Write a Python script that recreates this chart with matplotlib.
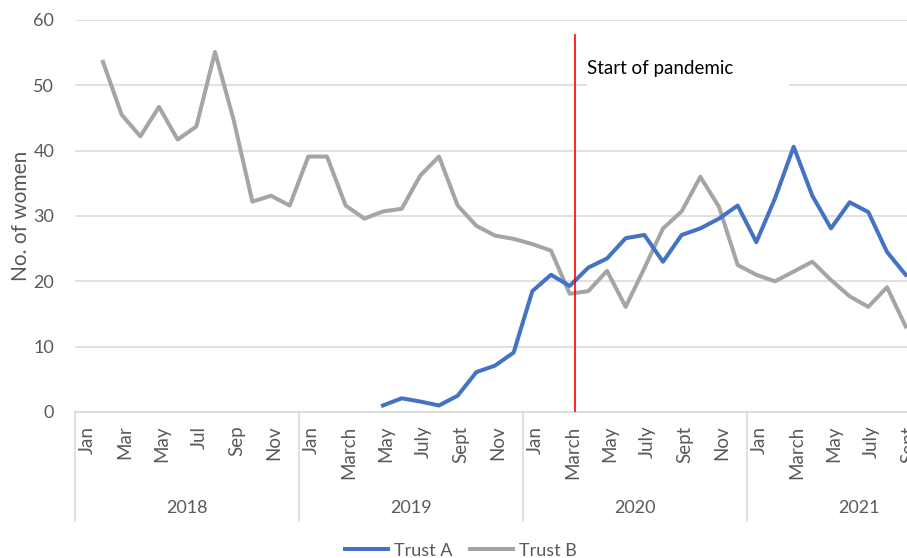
import matplotlib
matplotlib.use("Agg")
import matplotlib.pyplot as plt
import matplotlib.transforms as mtransforms
from matplotlib.patches import Rectangle
from matplotlib.lines import Line2D
import numpy as np

# ---- data ----
years = ["2018", "2019", "2020", "2021"]
months_per_year = [12, 12, 12, 9]
month_labels = [
    ["Jan", "Mar", "May", "Jul", "Sep", "Nov"],
    ["Jan", "March", "May", "July", "Sept", "Nov"],
    ["Jan", "March", "May", "July", "Sept", "Nov"],
    ["Jan", "March", "May", "July", "Sept"],
]
# Trust B: Feb 2018 .. Sep 2021
trust_b_start = 1
trust_b = [53.6, 45.5, 42.2, 46.7, 41.7, 43.7, 55.1, 44.7, 32.2, 33.1, 31.6,
           39.1, 39.1, 31.6, 29.6, 30.7, 31.1, 36.2, 39.1, 31.6, 28.5, 27.0, 26.5,
           25.7, 24.7, 18.1, 18.5, 21.6, 16.1, 22.0, 28.1, 30.7, 36.0, 31.4, 22.5,
           21.0, 20.0, 21.5, 23.0, 20.2, 17.7, 16.1, 19.1, 13.1]
# Trust A: May 2019 .. Sep 2021
trust_a_start = 16
trust_a = [1.0, 2.1, 1.6, 1.0, 2.5, 6.1, 7.1, 9.1,
           18.5, 21.0, 19.3, 22.1, 23.5, 26.6, 27.1, 23.0, 27.1, 28.1, 29.6, 31.6,
           26.0, 32.7, 40.6, 33.1, 28.1, 32.1, 30.6, 24.5, 21.0]
pandemic_index = 26.28
pandemic_label = "Start of pandemic"

plt.rcParams['font.family'] = ['Lato', 'DejaVu Sans']

W, H = 907, 558
fig = plt.figure(figsize=(W / 100, H / 100), dpi=100)
left_px, right_px, top_px, bottom_px = 75, 915, 20, 412
ax = fig.add_axes([left_px / W, 1 - bottom_px / H,
                   (right_px - left_px) / W, (bottom_px - top_px) / H])

ax.set_xlim(-0.5, 44.5)
ax.set_ylim(0, 60)
ax.set_yticks(np.arange(0, 61, 10))
ax.tick_params(axis='y', length=0, labelsize=13, labelcolor='#595959', pad=15)
ax.set_xticks([])
ax.grid(axis='y', color='#d9d9d9', linewidth=1.1)
ax.set_axisbelow(True)
for s in ['top', 'right', 'left']:
    ax.spines[s].set_visible(False)
ax.spines['bottom'].set_color('#d9d9d9')
ax.spines['bottom'].set_linewidth(1.1)
ax.set_ylabel("No. of women", fontsize=15, color='#595959', labelpad=2)

xb = np.arange(trust_b_start, trust_b_start + len(trust_b))
xa = np.arange(trust_a_start, trust_a_start + len(trust_a))
ax.plot(xb, trust_b, color='#A5A5A5', linewidth=2.9, solid_joinstyle='round', zorder=3)
ax.plot(xa, trust_a, color='#4472C4', linewidth=2.9, solid_joinstyle='round', zorder=4)

# pandemic line
ax.plot([pandemic_index, pandemic_index], [0, 57.7], color='#FF0000', linewidth=1.2, zorder=5)
ax.add_patch(Rectangle((26.95, 48.2), 10.8, 9.2, facecolor='white', edgecolor='none', zorder=2))
ax.text(26.95, 52.6, pandemic_label, fontsize=13.5, color='black', va='center', ha='left', zorder=6)

# category axis
trans = mtransforms.blended_transform_factory(ax.transData, ax.transAxes)
start = 0
for yi, (yr, nm, labs) in enumerate(zip(years, months_per_year, month_labels)):
    for k, lab in enumerate(labs):
        ax.text(start + 2 * k + 0.15, -0.035, lab, transform=trans, rotation=90,
                ha='center', va='top', fontsize=13.5, color='#595959')
    ax.text(start + (11) / 2.0, -0.245, yr, transform=trans, ha='center', va='center',
            fontsize=13, color='#595959')
    ax.plot([start - 0.5, start - 0.5], [0, -0.277], transform=trans, color='#d9d9d9',
            linewidth=1.1, clip_on=False)
    start += nm

# legend
handles = [Line2D([0], [0], color='#4472C4', lw=2.9), Line2D([0], [0], color='#A5A5A5', lw=2.9)]
fig.legend(handles, ["Trust A", "Trust B"], loc='center', bbox_to_anchor=(0.508, 0.013),
           ncol=2, frameon=False, fontsize=13, handlelength=2.4, handletextpad=0.3,
           columnspacing=1.0, labelcolor='#595959')

fig.savefig("out.png", dpi=100)
